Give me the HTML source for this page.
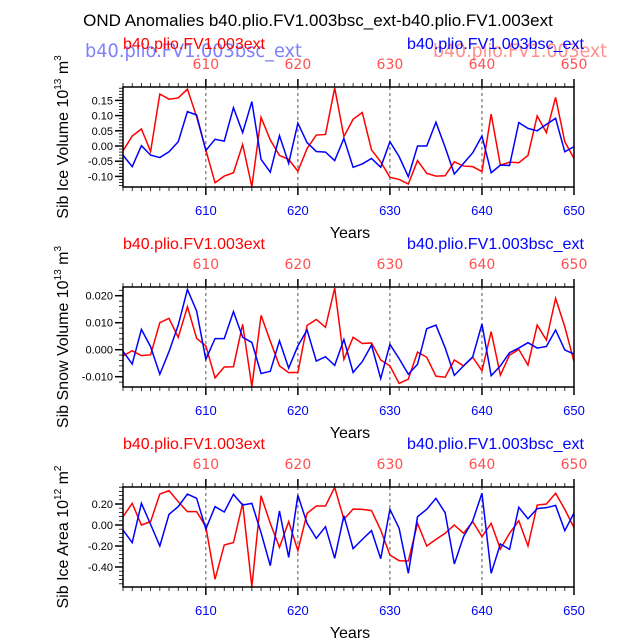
<!DOCTYPE html>
<html><head><meta charset="utf-8"><style>
html,body{margin:0;padding:0;background:#fff;}
svg{display:block;font-family:"Liberation Sans",sans-serif;}
</style></head><body>
<svg id="c" width="638" height="639" viewBox="0 0 638 639" xmlns="http://www.w3.org/2000/svg">
<text x="318" y="26" font-size="17" text-anchor="middle">OND Anomalies b40.plio.FV1.003bsc_ext-b40.plio.FV1.003ext</text>
<text x="85" y="57" font-size="19" fill="#8080ff" font-family="DejaVu Sans, sans-serif" textLength="217" lengthAdjust="spacingAndGlyphs">b40.plio.FV1.003bsc_ext</text>
<text x="433" y="57" font-size="19" fill="#ff9090" font-family="DejaVu Sans, sans-serif" textLength="174" lengthAdjust="spacingAndGlyphs">b40.plio.FV1.003ext</text>
</svg>
<script>
const years = [];
for (let y = 601; y <= 650; y++) years.push(y);
const xTicks = [610, 620, 630, 640, 650];
const iceVolRed = [-0.016,0.033,0.056,-0.018,0.171,0.154,0.158,0.187,0.096,-0.013,-0.121,-0.099,-0.088,0.005,-0.134,0.094,0.020,-0.031,-0.044,-0.083,-0.008,0.036,0.038,0.191,0.031,0.088,0.110,-0.013,-0.052,-0.103,-0.110,-0.125,-0.048,-0.090,-0.099,-0.098,-0.052,-0.066,-0.068,-0.084,0.105,-0.063,-0.053,-0.055,-0.031,0.099,0.044,0.160,0.014,-0.041];
const iceVolBlue = [-0.030,-0.068,0.001,-0.030,-0.038,-0.019,0.014,0.113,0.102,-0.015,0.022,0.016,0.126,0.044,0.146,-0.044,-0.086,0.034,-0.057,0.075,0.011,-0.018,-0.020,-0.048,0.025,-0.070,-0.059,-0.041,-0.070,0.014,-0.035,-0.101,0.000,0.000,0.078,-0.004,-0.092,-0.057,-0.022,0.033,-0.088,-0.063,-0.064,0.077,0.058,0.050,0.071,0.091,-0.019,-0.002];
const snowRed = [-0.0023,-0.0004,-0.0022,-0.0019,0.0100,0.0116,0.0046,0.0159,0.0042,0.0014,-0.0104,-0.0064,-0.0063,0.0094,-0.0137,0.0127,0.0032,-0.0060,-0.0085,-0.0084,0.0090,0.0112,0.0083,0.0228,-0.0036,0.0046,0.0023,0.0025,-0.0038,-0.0060,-0.0125,-0.0109,-0.0009,-0.0028,-0.0098,-0.0102,-0.0038,-0.0060,-0.0028,-0.0078,0.0067,-0.0094,-0.0020,0.0001,-0.0057,0.0091,0.0036,0.0190,0.0085,-0.0044];
const snowBlue = [-0.0006,-0.0053,0.0075,0.0011,-0.0091,-0.0007,0.0091,0.0223,0.0143,-0.0036,0.0041,0.0041,0.0141,0.0046,0.0027,-0.0088,-0.0080,0.0033,-0.0068,0.0014,0.0073,-0.0042,-0.0026,-0.0058,0.0038,-0.0084,-0.0044,0.0017,-0.0107,0.0020,-0.0033,-0.0091,-0.0054,0.0078,0.0091,0.0007,-0.0095,-0.0060,-0.0026,0.0095,-0.0096,-0.0060,-0.0011,0.0006,0.0026,0.0006,0.0012,0.0073,-0.0001,-0.0016];
const areaRed = [0.079,0.206,0,0.032,0.295,0.327,0.222,0.127,0.127,-0.016,-0.517,-0.190,-0.168,0.206,-0.587,0.279,0.016,-0.213,0.032,-0.244,0.111,0.181,0.181,0.359,0.054,0.152,0.149,0.137,-0.048,-0.286,-0.340,-0.343,0.016,-0.200,-0.137,-0.079,0,-0.079,0.032,-0.111,0.016,-0.229,-0.079,0.041,-0.200,0.190,0.200,0.302,0.149,-0.025];
const areaBlue = [-0.048,-0.168,0.206,0.006,-0.200,0.102,0.175,0.295,0.254,-0.038,0.175,0.124,0.292,0.190,0.206,-0.073,-0.387,0.133,-0.308,0.283,0.016,-0.127,-0.016,-0.317,0.089,-0.225,-0.137,-0.054,-0.321,0.149,-0.032,-0.460,0.079,0.149,0.254,0.117,-0.371,-0.111,0.041,0.302,-0.460,-0.181,-0.232,0.168,0.060,0.156,0.165,0.187,-0.054,0.114];
const p1Ticks = [0.15,0.10,0.05,0.00,-0.05,-0.10];
const p1Labels = ["0.15","0.10","0.05","0.00","-0.05","-0.10"];
const p2Ticks = [0.02,0.01,0.0,-0.01];
const p2Labels = ["0.020","0.010","0.000","-0.010"];
const p3Ticks = [0.2,0.0,-0.2,-0.4];
const p3Labels = ["0.20","0.00","-0.20","-0.40"];

const NS = "http://www.w3.org/2000/svg";
const svg = document.getElementById('c');
function mk(tag, attrs, parent) {
  const e = document.createElementNS(NS, tag);
  for (const k in attrs) e.setAttribute(k, attrs[k]);
  (parent || svg).appendChild(e);
  return e;
}
const X0 = 123, X1 = 574;
function xScale(yr) { return X0 + (yr - 601) * (X1 - X0) / 49; }

function panel(top, name, red, blue, ticks, labels, zeroY, unitPx, minorStep, yTitle, exp, unit) {
  const bot = top + 100;
  const ys = v => zeroY - v * unitPx;
  const g = mk('g', {});
  
  
  let t = mk('text', {x: 123, y: top - 38, 'font-size': 16, fill: '#ff0000', textLength: 142, lengthAdjust: 'spacingAndGlyphs'}, g);
  t.textContent = 'b40.plio.FV1.003ext';
  
  
  t = mk('text', {x: 407, y: top - 38, 'font-size': 16, fill: '#0000ff', textLength: 177, lengthAdjust: 'spacingAndGlyphs'}, g);
  t.textContent = 'b40.plio.FV1.003bsc_ext';
  
  
  xTicks.slice(0, 4).forEach(yr => {
    const l = mk('line', {x1: xScale(yr), x2: xScale(yr), y1: top, y2: bot, stroke: '#555', 'stroke-width': 1, 'stroke-dasharray': '3,3'}, g);
    
    
  });
  years.forEach(yr => {
    const major = yr % 10 === 0;
    const len = major ? 8 : 4;
    mk('line', {x1: xScale(yr), x2: xScale(yr), y1: top, y2: top - len, stroke: '#000', 'stroke-width': major ? 1.5 : 0.8}, g);
    mk('line', {x1: xScale(yr), x2: xScale(yr), y1: bot, y2: bot + len, stroke: '#000', 'stroke-width': major ? 1.5 : 0.8}, g);
  });
  xTicks.forEach(yr => {
    let a = mk('text', {x: xScale(yr), y: top - 18, 'font-size': 14, fill: '#ff5050', 'text-anchor': 'middle', 'font-family': 'DejaVu Sans, sans-serif'}, g);
    a.textContent = yr;
    
    
    a = mk('text', {x: xScale(yr), y: bot + 28, 'font-size': 13, fill: '#0000ff', 'text-anchor': 'middle'}, g);
    a.textContent = yr;
    
    
  });
  const lo = (zeroY - bot) / unitPx, hi = (zeroY - top) / unitPx;
  for (let v = Math.ceil(lo / minorStep) * minorStep; v <= hi; v += minorStep) {
    mk('line', {x1: X0, x2: X0 - 4, y1: ys(v), y2: ys(v), stroke: '#000', 'stroke-width': 0.8}, g);
  }
  ticks.forEach((v, i) => {
    mk('line', {x1: X0, x2: X0 - 8, y1: ys(v), y2: ys(v), stroke: '#000', 'stroke-width': 1.5}, g);
    const a = mk('text', {x: X0 - 10, y: ys(v) + 4, 'font-size': 11, 'text-anchor': 'end'}, g);
    a.textContent = labels[i];
    
    
  });
  const ptsR = red.map((v, i) => xScale(years[i]) + ',' + ys(v)).join(' ');
  const ptsB = blue.map((v, i) => xScale(years[i]) + ',' + ys(v)).join(' ');
  const clipId = name + '-clip';
  const cp = mk('clipPath', {id: clipId}, g);
  mk('rect', {x: X0, y: top, width: X1 - X0, height: 100}, cp);
  let pl = mk('polyline', {points: ptsR, fill: 'none', stroke: '#ff0000', 'stroke-width': 1.5, 'clip-path': 'url(#' + clipId + ')'}, g);
  
  
  pl = mk('polyline', {points: ptsB, fill: 'none', stroke: '#0000ff', 'stroke-width': 1.5, 'clip-path': 'url(#' + clipId + ')'}, g);
  
  
  const box = mk('rect', {x: X0, y: top, width: X1 - X0, height: 100, fill: 'none', stroke: '#000', 'stroke-width': 1.5}, g);
  
  
  let a = mk('text', {x: 350, y: bot + 51, 'font-size': 16, 'text-anchor': 'middle'}, g);
  a.textContent = 'Years';
  
  
  const cy = top + 50;
  a = mk('text', {x: 0, y: 0, 'font-size': 16, 'text-anchor': 'middle', transform: 'translate(68,' + cy + ') rotate(-90)'}, g);
  
  
  const s1 = mk('tspan', {}, a); s1.textContent = yTitle + ' 10';
  const s2 = mk('tspan', {dy: -7, 'font-size': 10}, a); s2.textContent = exp;
  const s3 = mk('tspan', {dy: 7}, a); s3.textContent = ' m';
  const s4 = mk('tspan', {dy: -7, 'font-size': 10}, a); s4.textContent = unit;
}
panel(87, 'ice-volume-panel', iceVolRed, iceVolBlue, p1Ticks, p1Labels, 146, 304, 0.01, 'Sib Ice Volume', '13', '3');
panel(287, 'snow-volume-panel', snowRed, snowBlue, p2Ticks, p2Labels, 349.7, 2700, 0.002, 'Sib Snow Volume', '13', '3');
panel(487, 'ice-area-panel', areaRed, areaBlue, p3Ticks, p3Labels, 525, 105, 0.04, 'Sib Ice Area', '12', '2');
</script>
</body></html>
